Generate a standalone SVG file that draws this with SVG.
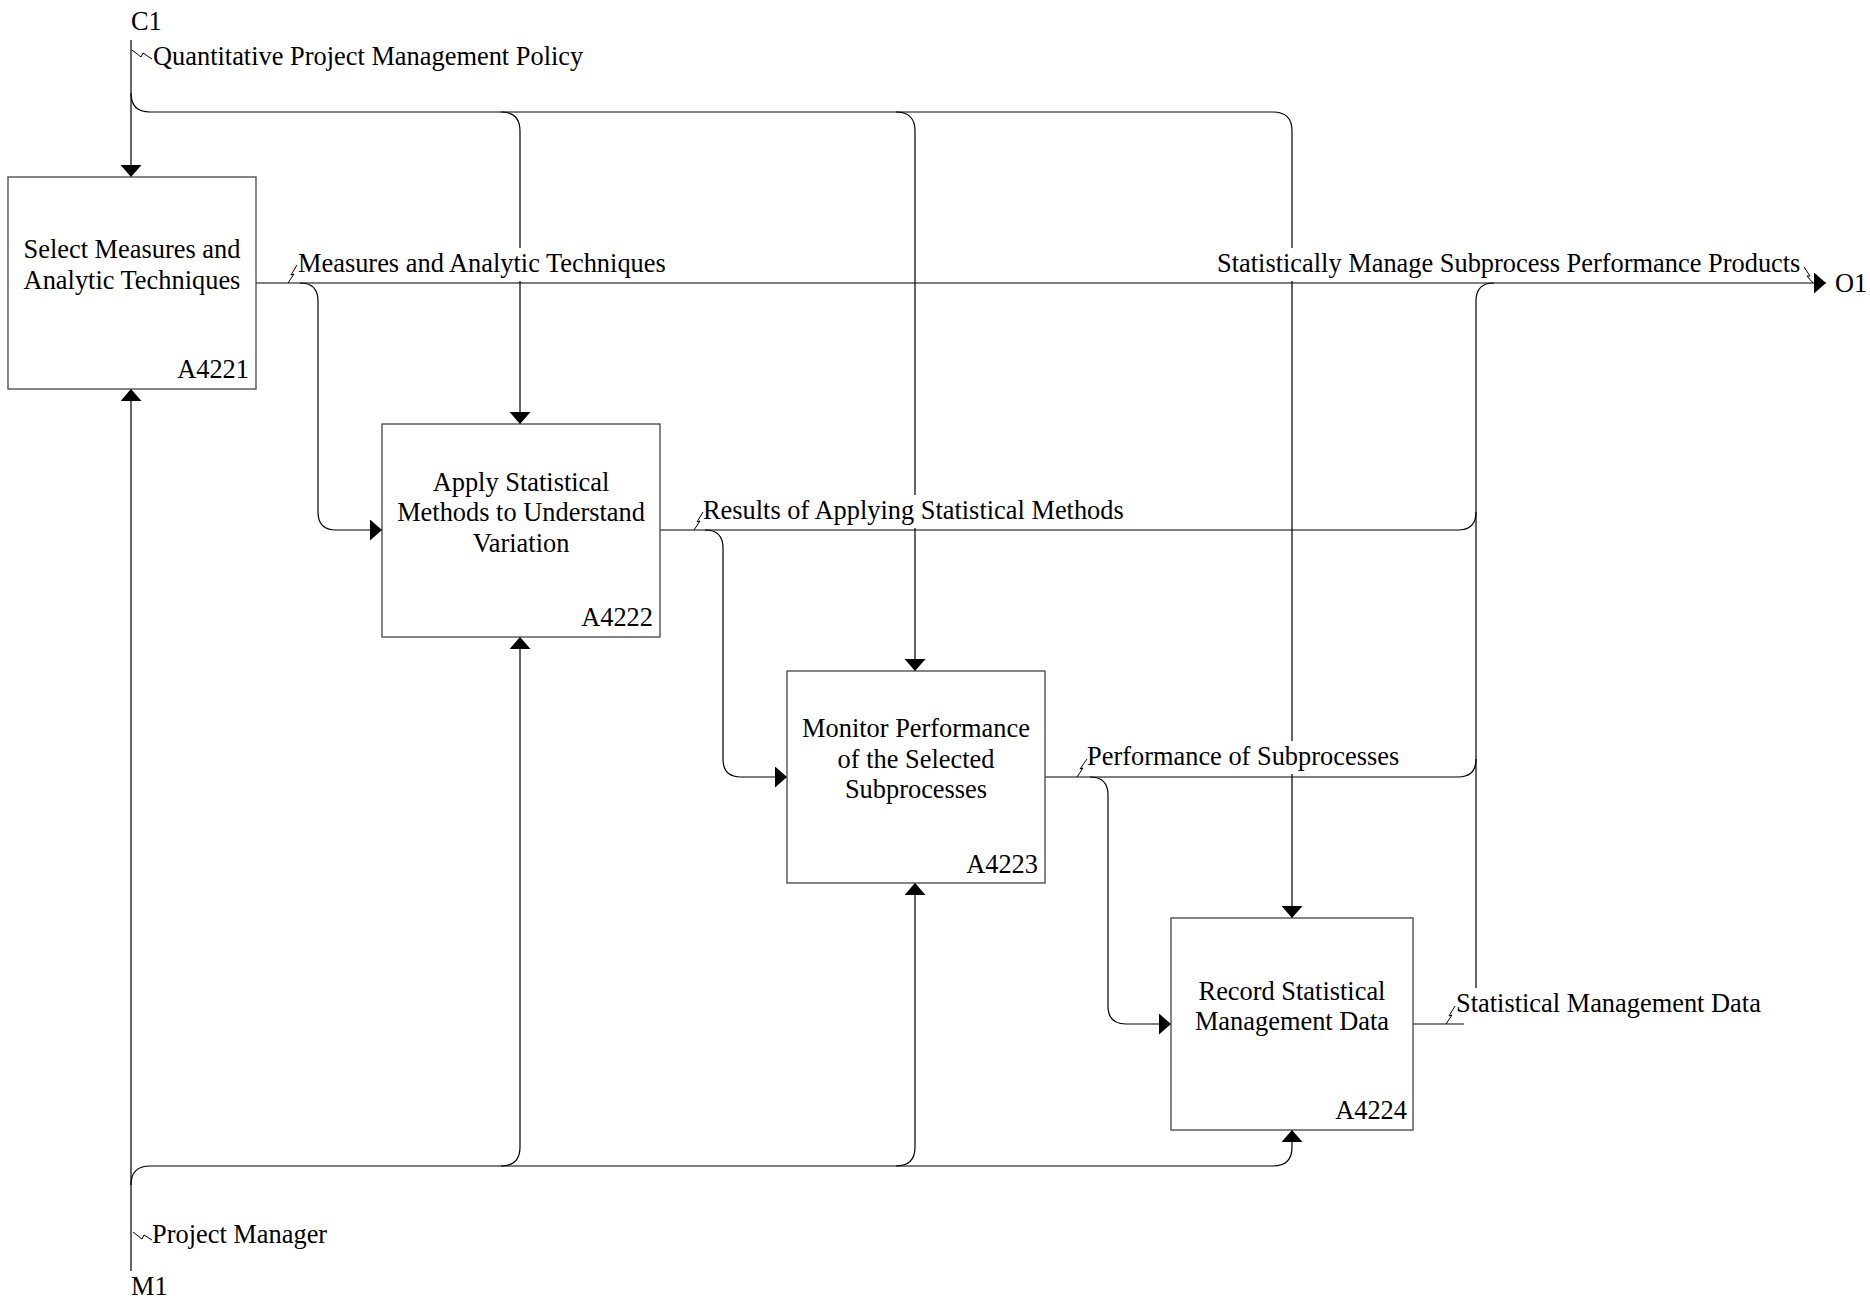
<svg xmlns="http://www.w3.org/2000/svg" width="1870" height="1299" viewBox="0 0 1870 1299">
<style>
  text { font-family: "Liberation Serif", "Times New Roman", serif; font-size: 26.4px; fill: #000; }
  .box { fill: #fff; stroke: #444; stroke-width: 1.3; }
  .mid { text-anchor: middle; }
  .end { text-anchor: end; }
  .conn { fill: none; stroke: #000; stroke-width: 1.2; }
  .arr { marker-end: url(#ah); }
  .sq { fill: none; stroke: #000; stroke-width: 1; }
  .bg { fill: #fff; stroke: none; }
</style>
<defs>
  <marker id="ah" markerUnits="userSpaceOnUse" markerWidth="12" markerHeight="21" refX="12" refY="10.5" orient="auto">
    <path d="M0,0 L12,10.5 L0,21 z" fill="#000"/>
  </marker>
</defs>
<rect width="1870" height="1299" fill="#fff"/>

<g id="connectors">
  <path class="conn arr" d="M131,40 V177"/>
  <path class="conn arr" d="M131,93 Q131,112 150,112 H1273 Q1292,112 1292,131 V918"/>
  <path class="conn arr" d="M501,112 Q520,112 520,131 V424"/>
  <path class="conn arr" d="M896,112 Q915,112 915,131 V671"/>
  <path class="conn arr" d="M131,1271 V389"/>
  <path class="conn arr" d="M131,1185 Q131,1166 150,1166 H1273 Q1292,1166 1292,1147 V1130"/>
  <path class="conn arr" d="M501,1166 Q520,1166 520,1147 V637"/>
  <path class="conn arr" d="M896,1166 Q915,1166 915,1147 V883"/>
  <path class="conn arr" d="M256,283 H1826"/>
  <path class="conn arr" d="M300,283 Q318,283 318,301 V512 Q318,530 336,530 H382"/>
  <path class="conn" d="M660,530 H1458 Q1476,530 1476,512"/>
  <path class="conn arr" d="M705,530 Q723,530 723,548 V759 Q723,777 741,777 H787"/>
  <path class="conn" d="M1045,777 H1458 Q1476,777 1476,759"/>
  <path class="conn arr" d="M1090,777 Q1108,777 1108,795 V1006 Q1108,1024 1126,1024 H1171"/>
  <path class="conn" d="M1413,1024 H1464"/>
  <path class="conn" d="M1476,988 V301 Q1476,283 1494,283"/>
</g>

<g id="labels">
  <g id="label-c1">
    <text x="131" y="30">C1</text>
    <path class="sq" d="M132,50 L141,57 L143,53 L152,59"/>
    <text x="153" y="65">Quantitative Project Management Policy</text>
  </g>
  <g id="label-measures">
    <rect class="bg" x="297" y="248" width="375" height="33"/>
    <path class="sq" d="M288,283 L294,274 L291,275 L297,265"/>
    <text x="298" y="272">Measures and Analytic Techniques</text>
  </g>
  <g id="label-o1">
    <rect class="bg" x="1216" y="248" width="588" height="33"/>
    <text x="1217" y="272">Statistically Manage Subprocess Performance Products</text>
    <path class="sq" d="M1804,267 L1810,276 L1807,276 L1813,283"/>
    <text x="1835" y="292">O1</text>
  </g>
  <g id="label-results">
    <rect class="bg" x="702" y="495" width="426" height="33"/>
    <path class="sq" d="M694,530 L700,521 L697,522 L703,512"/>
    <text x="703" y="519">Results of Applying Statistical Methods</text>
  </g>
  <g id="label-performance">
    <rect class="bg" x="1086" y="741" width="317" height="33"/>
    <path class="sq" d="M1077,777 L1083,768 L1080,769 L1087,759"/>
    <text x="1087" y="765">Performance of Subprocesses</text>
  </g>
  <g id="label-smd">
    <path class="sq" d="M1446,1024 L1452,1015 L1449,1016 L1455,1006"/>
    <text x="1456" y="1012">Statistical Management Data</text>
  </g>
  <g id="label-m1">
    <path class="sq" d="M133,1232 L142,1239 L144,1235 L152,1240"/>
    <text x="152" y="1243">Project Manager</text>
    <text x="131" y="1295">M1</text>
  </g>
</g>

<g id="A4221">
  <rect class="box" x="8" y="177" width="248" height="212"/>
  <text class="mid" x="132" y="258">Select Measures and</text>
  <text class="mid" x="132" y="289">Analytic Techniques</text>
  <text class="end" x="249" y="378">A4221</text>
</g>
<g id="A4222">
  <rect class="box" x="382" y="424" width="278" height="213"/>
  <text class="mid" x="521" y="491">Apply Statistical</text>
  <text class="mid" x="521" y="521">Methods to Understand</text>
  <text class="mid" x="521" y="552">Variation</text>
  <text class="end" x="653" y="626">A4222</text>
</g>
<g id="A4223">
  <rect class="box" x="787" y="671" width="258" height="212"/>
  <text class="mid" x="916" y="737">Monitor Performance</text>
  <text class="mid" x="916" y="768">of the Selected</text>
  <text class="mid" x="916" y="798">Subprocesses</text>
  <text class="end" x="1038" y="873">A4223</text>
</g>
<g id="A4224">
  <rect class="box" x="1171" y="918" width="242" height="212"/>
  <text class="mid" x="1292" y="1000">Record Statistical</text>
  <text class="mid" x="1292" y="1030">Management Data</text>
  <text class="end" x="1407" y="1119">A4224</text>
</g>
</svg>
